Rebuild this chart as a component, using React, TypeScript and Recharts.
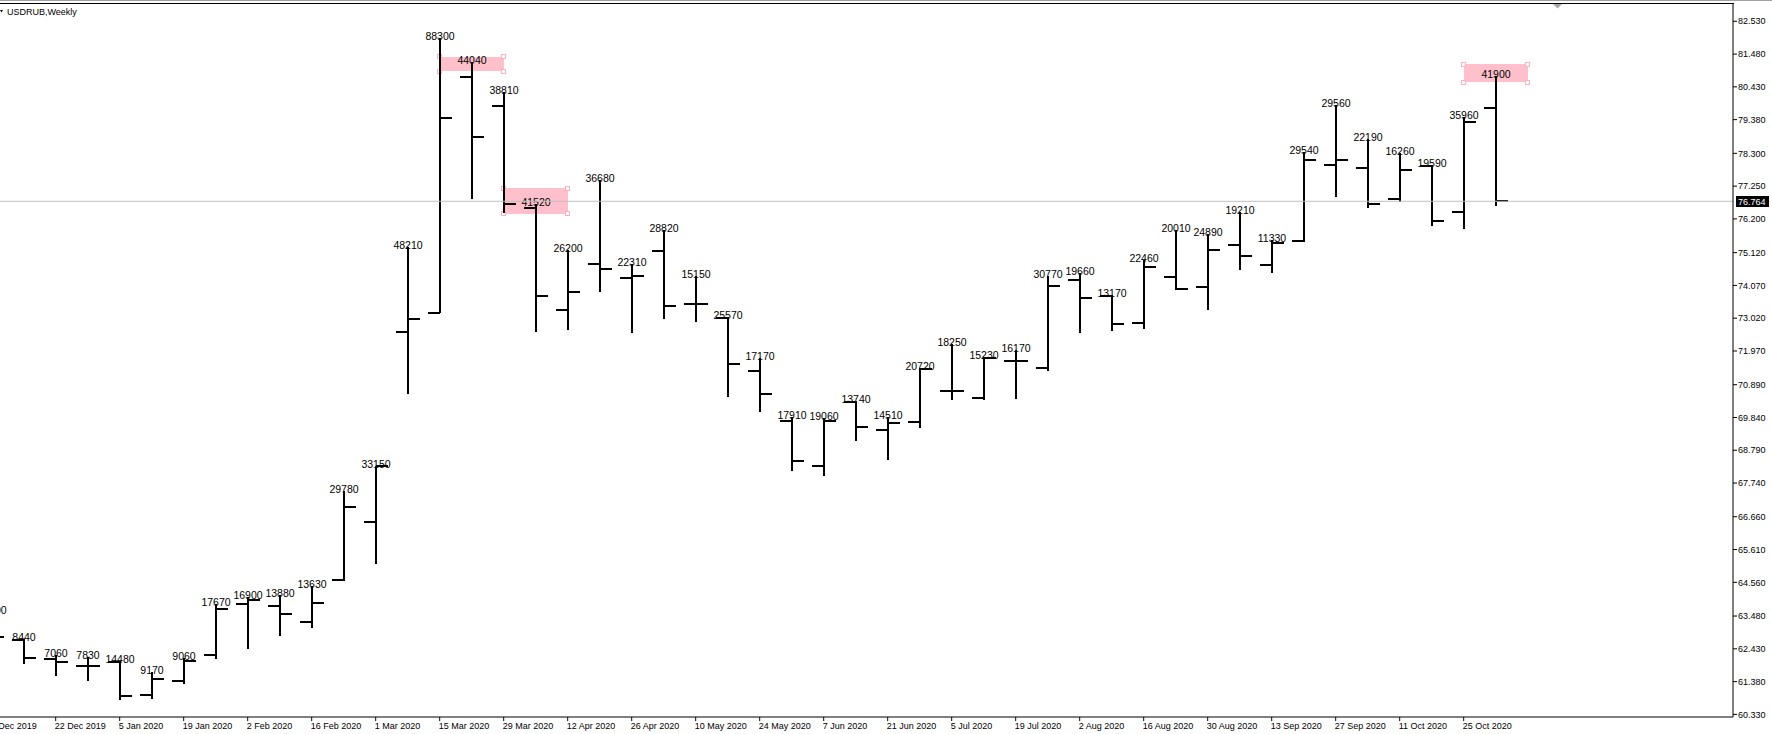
import React from 'react';
import { ComposedChart, Bar, XAxis, YAxis, ReferenceArea, ReferenceLine, Customized } from 'recharts';

const FONT = '"Liberation Sans", Arial, sans-serif';

const weeks = ['8 Dec 2019','15 Dec 2019','22 Dec 2019','29 Dec 2019','5 Jan 2020','12 Jan 2020','19 Jan 2020','26 Jan 2020','2 Feb 2020','9 Feb 2020','16 Feb 2020','23 Feb 2020','1 Mar 2020','8 Mar 2020','15 Mar 2020','22 Mar 2020','29 Mar 2020','5 Apr 2020','12 Apr 2020','19 Apr 2020','26 Apr 2020','3 May 2020','10 May 2020','17 May 2020','24 May 2020','31 May 2020','7 Jun 2020','14 Jun 2020','21 Jun 2020','28 Jun 2020','5 Jul 2020','12 Jul 2020','19 Jul 2020','26 Jul 2020','2 Aug 2020','9 Aug 2020','16 Aug 2020','23 Aug 2020','30 Aug 2020','6 Sep 2020','13 Sep 2020','20 Sep 2020','27 Sep 2020','4 Oct 2020','11 Oct 2020','18 Oct 2020','25 Oct 2020','1 Nov 2020'];

const opens = [63.19,62.71,62.11,61.89,62.02,60.96,61.40,62.24,63.88,63.80,63.28,64.64,66.50,72.59,73.20,80.76,79.83,76.56,73.29,74.77,74.32,75.18,73.49,73.02,71.34,69.74,68.29,70.33,69.45,69.71,70.70,70.46,71.66,71.44,74.24,73.74,72.88,74.35,74.03,75.37,74.73,75.50,77.94,77.84,76.84,77.89,76.43,79.76];
const highs = [63.61,62.73,62.23,62.18,62.03,61.70,62.13,63.87,64.10,64.15,64.43,67.50,68.30,75.31,81.99,81.23,80.28,76.68,75.20,77.45,74.76,75.83,74.37,73.05,71.74,69.86,69.81,70.37,69.87,71.44,72.18,71.79,72.00,74.37,74.48,73.76,74.88,75.85,75.71,76.43,75.51,78.33,79.85,78.75,78.32,77.94,79.46,80.78];
const lows = [62.70,61.93,61.57,61.41,60.78,60.81,61.29,62.10,62.43,62.83,63.11,64.61,65.14,70.58,73.18,76.85,76.39,72.57,72.63,73.85,72.54,72.99,72.89,70.51,70.03,68.13,67.95,69.09,68.48,69.49,70.39,70.39,70.42,71.32,72.54,72.60,72.67,73.92,73.27,74.56,74.46,75.45,76.91,76.54,76.73,75.98,75.89,76.62];
const closes = [62.81,62.15,62.02,61.88,60.93,61.47,62.05,63.72,64.00,63.56,63.91,66.98,68.29,73.00,79.44,78.83,76.69,73.73,73.87,74.61,74.38,73.41,73.48,71.56,70.58,68.45,69.74,69.54,69.67,71.40,70.69,71.76,71.65,74.05,73.68,72.84,74.67,73.97,75.21,75.02,75.44,78.09,78.09,76.69,77.77,76.14,79.31,76.764];
const volumes = ['12300','8440','7060','7830','14480','9170','9060','17670','16900','13880','13630','29780','33150','48210','88300','44040','38810','41520','26200','36680','22310','28820','15150','25570','17170','17910','19060','13740','14510','20720','18250','15230','16170','30770','19660','13170','22460','20010','24890','19210','11330','29540','29560','22190','16260','19590','35960','41900'];

const dateTickIdx = [0,2,4,6,8,10,12,14,16,18,20,22,24,26,28,30,32,34,36,38,40,42,44,46];
const priceTicks = [82.53,81.48,80.43,79.38,78.30,77.25,76.20,75.12,74.07,73.02,71.97,70.89,69.84,68.79,67.74,66.66,65.61,64.56,63.48,62.43,61.38,60.33];
const currentPrice = 76.764;

// rectangle objects: from bar index, to bar index, lower price, upper price
const boxFrom = [14, 16, 46];
const boxTo = [16, 18, 48];
const boxLow = [80.928, 76.358, 80.576];
const boxHigh = [81.396, 77.181, 81.153];

const X_DOMAIN: [number, number] = [0.2594, 54.4156];
const Y_DOMAIN: [number, number] = [60.246, 83.084];

const data = weeks.map((w, i) => ({
  i,
  date: w,
  open: opens[i],
  high: highs[i],
  low: lows[i],
  close: closes[i],
  range: [lows[i], highs[i]],
  vol: volumes[i],
}));

const OhlcShape = (props: any) => {
  const { x, y, width, height, payload } = props;
  if (!payload || payload.high == null) return null;
  const cx = Math.round(x + width / 2);
  const top = Math.min(y, y + height);
  const bottom = Math.max(y, y + height);
  const span = payload.high - payload.low;
  const py = (v: number) => top + ((payload.high - v) / span) * (bottom - top);
  const yo = Math.round(py(payload.open));
  const yc = Math.round(py(payload.close));
  const t = Math.round(top);
  const b = Math.round(bottom);
  return (
    <g>
      <g shapeRendering="crispEdges">
        <rect x={cx - 1} y={t} width={2} height={Math.max(2, b - t)} fill="#000" />
        <rect x={cx - 12} y={yo - 1} width={12} height={2} fill="#000" />
        <rect x={cx} y={yc - 1} width={12} height={2} fill="#000" />
      </g>
      <text x={cx} y={top + 2} textAnchor="middle" fontSize={10.5} fontFamily={FONT} fill="#000">
        {payload.vol}
      </text>
    </g>
  );
};

const PinkBox = (props: any) => {
  const { x, y, width, height } = props;
  const corners = [
    [x, y],
    [x + width, y],
    [x, y + height],
    [x + width, y + height],
  ];
  return (
    <g shapeRendering="crispEdges">
      <rect x={x} y={y} width={width} height={height} fill="#ffc0cb" />
      {corners.map(([hx, hy], k) => (
        <rect key={k} x={hx - 2} y={hy - 2} width={4} height={4} fill="#fff" stroke="#ffb0c0" strokeWidth={1} />
      ))}
    </g>
  );
};

const DateTick = (props: any) => {
  const { x, y, payload } = props;
  const label = weeks[payload.value];
  if (!label) return null;
  return (
    <text x={x - 1} y={y} dy={6} textAnchor="start" fontSize={9} fontFamily={FONT} fill="#000">
      {label}
    </text>
  );
};

const PriceTag = (props: any) => {
  const vb = props.viewBox || {};
  const x = (vb.x || 0) + (vb.width || 0) + 3;
  const y = vb.y || 0;
  return (
    <g>
      <rect x={x} y={y - 5.5} width={33} height={11} fill="#000" shapeRendering="crispEdges" />
      <text x={x + 2} y={y} dy="0.355em" fontSize={9} fontFamily={FONT} fill="#fff">
        {currentPrice.toFixed(3)}
      </text>
    </g>
  );
};

const Decorations = () => (
  <g>
    <rect x={0} y={0} width={1772} height={1} fill="#a0a0a0" shapeRendering="crispEdges" />
    <rect x={0} y={3} width={1734} height={1} fill="#000" shapeRendering="crispEdges" />
    <polygon points="1553,4 1562,4 1557.5,8.5" fill="#a8a8a8" />
    <polygon points="0,10 3,10 1.5,12.5" fill="#000" />
    <text x={7} y={15} fontSize={9} fontFamily={FONT} fill="#000">USDRUB,Weekly</text>
  </g>
);

export default function App() {
  return (
    <div style={{ position: 'absolute', left: 0, top: 0, width: 1772, height: 734, background: '#fff' }}>
      <ComposedChart width={1772} height={734} data={data} margin={{ top: 4, right: 0, bottom: 0, left: 0 }}>
        <XAxis
          dataKey="i"
          type="number"
          domain={X_DOMAIN}
          allowDataOverflow
          ticks={dateTickIdx}
          interval={0}
          height={17}
          tickSize={4}
          tickLine={{ stroke: '#000' }}
          axisLine={{ stroke: '#000' }}
          tick={<DateTick />}
        />
        <YAxis
          orientation="right"
          type="number"
          domain={Y_DOMAIN}
          allowDataOverflow
          ticks={priceTicks}
          interval={0}
          width={39}
          tickSize={4}
          tickMargin={1}
          tickLine={{ stroke: '#000' }}
          axisLine={{ stroke: '#000' }}
          tickFormatter={(v: number) => v.toFixed(3)}
          tick={{ fontSize: 9, fill: '#000', fontFamily: FONT }}
        />
        {boxFrom.map((f, k) => (
          <ReferenceArea
            key={k}
            x1={f}
            x2={boxTo[k]}
            y1={boxLow[k]}
            y2={boxHigh[k]}
            ifOverflow="visible"
            shape={<PinkBox />}
          />
        ))}
        <ReferenceLine y={currentPrice} stroke="#c0c0c0" strokeWidth={1} label={<PriceTag />} />
        <Bar dataKey="range" barSize={23} shape={<OhlcShape />} isAnimationActive={false} />
        <Customized component={Decorations} />
      </ComposedChart>
    </div>
  );
}
